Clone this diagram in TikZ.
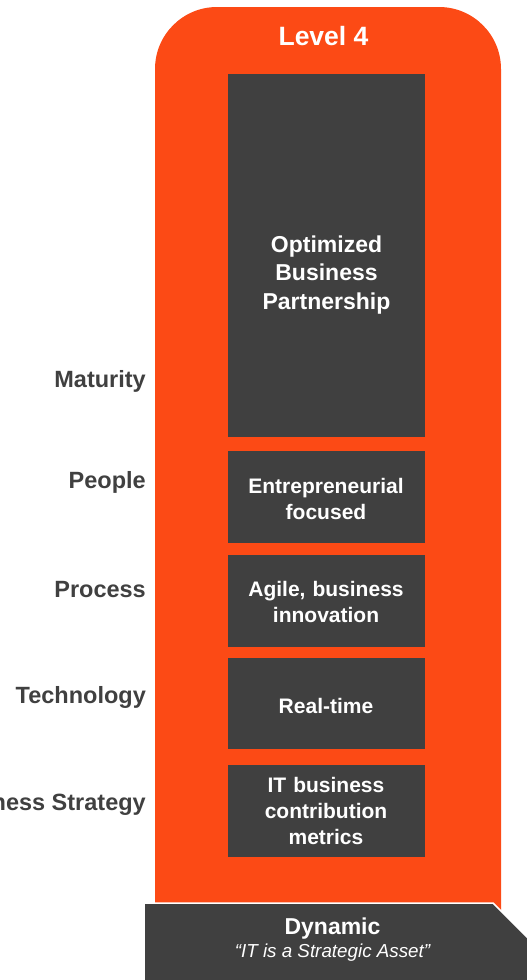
\documentclass[tikz,border=0pt]{standalone}
\usepackage{fontspec}
\setmainfont{Liberation Sans}
\definecolor{orng}{HTML}{FC4A15}
\definecolor{dgray}{HTML}{404040}
\begin{document}
\begin{tikzpicture}[x=1pt,y=-1pt,
  dbox/.style={fill=dgray, draw=none, minimum width=197pt, inner sep=0pt},
  boxtxt/.style={text=white, text width=195pt, align=center, inner sep=0pt, font=\bfseries\fontsize{21}{26}\selectfont},
  bigtxt/.style={boxtxt, font=\bfseries\fontsize{23}{28.5}\selectfont},
  lbl/.style={text=dgray, inner sep=0pt, anchor=base east, font=\bfseries\fontsize{23.5}{28}\selectfont}]
\useasboundingbox (0,0) rectangle (527,980);
\clip (0,0) rectangle (527,980);
% orange column
\fill[orng] (155,915) -- (155,69) arc[start angle=180,end angle=270,radius=62] -- (439,7) arc[start angle=270,end angle=360,radius=62] -- (501,915) -- cycle;
\node[anchor=base, text=white, inner sep=0pt, font=\bfseries\fontsize{26.5}{30}\selectfont] (lvl) at (323.5,45) {Level 4};
% dark boxes
\node[dbox, minimum height=363pt] (b1) at (326.5,255.5) {};
\node[dbox, minimum height=92pt] (b2) at (326.5,497) {};
\node[dbox, minimum height=92pt] (b3) at (326.5,601) {};
\node[dbox, minimum height=91pt] (b4) at (326.5,703.5) {};
\node[dbox, minimum height=92pt] (b5) at (326.5,811) {};
\node[bigtxt, anchor=base] (t1) at (326.5,252) {Optimized\\Business\\Partnership};
\node[boxtxt, anchor=base] (t2) at (326,493) {Entrepreneurial\\focused};
\node[boxtxt, anchor=base] (t3) at (326,596) {Agile, business\\innovation};
\node[boxtxt, anchor=base] (t4) at (326,713) {Real-time};
\node[boxtxt, anchor=base] (t5) at (326,792) {IT business\\contribution\\metrics};
% labels
\node[lbl] (l1) at (146,387) {Maturity};
\node[lbl] (l2) at (146,488) {People};
\node[lbl] (l3) at (146,597) {Process};
\node[lbl] (l4) at (146,703) {Technology};
\node[lbl] (l5) at (146,810) {Business Strategy};
% bottom arrow
\filldraw[fill=dgray, draw=white, line width=1.5pt] (144,903) -- (493,903) -- (567,977) -- (493,1051) -- (144,1051) -- cycle;
\node[anchor=base, text=white, inner sep=0pt, font=\bfseries\fontsize{23}{28}\selectfont] (dyn) at (332.5,934) {Dynamic};
\node[anchor=base, text=white, inner sep=0pt, font=\itshape\fontsize{18.8}{22}\selectfont] (sub) at (332.5,957) {“IT is a Strategic Asset”};
\end{tikzpicture}
\end{document}
